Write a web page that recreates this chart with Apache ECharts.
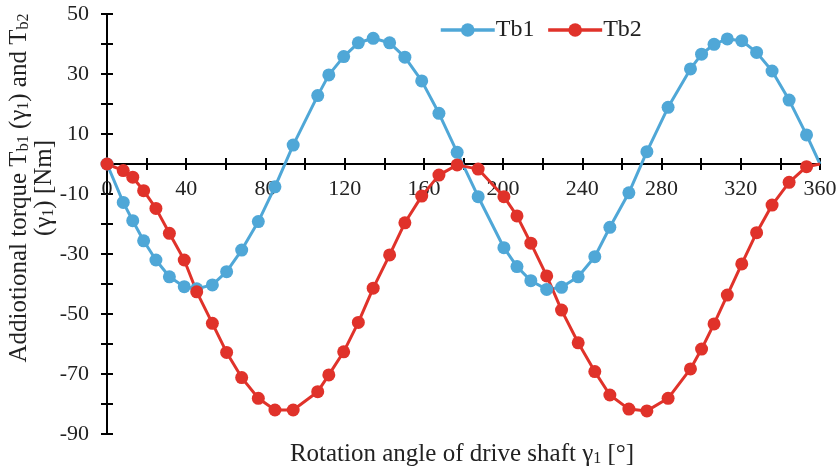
<!DOCTYPE html>
<html>
<head>
<meta charset="utf-8">
<script src="https://cdn.jsdelivr.net/npm/echarts@6/dist/echarts.min.js"></script>
<style>html,body{margin:0;padding:0;background:#fff;}#chart{width:840px;height:472px;}</style>
</head>
<body>
<div id="chart"></div>
<script>
// Rotation angle of drive shaft (deg)
const angle = [0, 8.2, 13, 18.5, 24.7, 31.5, 39, 45.3, 53.2, 60.4, 68, 76.4, 84.8, 94, 106.4, 112, 119.5, 126.9, 134.4, 142.7, 150.4, 158.9, 167.6, 176.8, 187.4, 200.4, 207, 214, 222, 229.5, 237.9, 246.3, 253.9, 263.5, 272.6, 283.3, 294.6, 300.2, 306.5, 313.2, 320.5, 328, 335.8, 344.4, 353.2, 360];
// Additional torque Tb1 (Nm)
const tb1 = [0, -12.8, -18.9, -25.6, -32, -37.6, -40.9, -41.6, -40.3, -35.9, -28.7, -19.2, -7.6, 6.3, 22.8, 29.7, 35.8, 40.4, 41.9, 40.4, 35.6, 27.7, 16.9, 3.9, -10.9, -27.9, -34.2, -38.9, -41.8, -41.1, -37.6, -30.9, -21.1, -9.6, 4.1, 18.9, 31.7, 36.6, 39.9, 41.7, 41.1, 37.2, 31, 21.3, 9.7, 0];
// Additional torque Tb2 (Nm)
const tb2 = [0, -2.2, -4.4, -8.9, -14.8, -23.1, -32, -42.6, -53.1, -62.8, -71.2, -78.1, -82, -82, -75.9, -70.3, -62.6, -52.8, -41.4, -30.3, -19.6, -10.7, -3.7, -0.3, -1.7, -10.9, -17.3, -26.4, -37.3, -48.7, -59.6, -69.2, -77, -81.7, -82.3, -78.1, -68.3, -61.7, -53.3, -43.7, -33.3, -22.9, -13.7, -6.1, -0.9, 0];
const seriesNames = ['Tb1', 'Tb2'];
const xLabelTicks = [0, 40, 80, 120, 160, 200, 240, 280, 320, 360];
const yLabelTicks = [50, 30, 10, -10, -30, -50, -70, -90];

const FONT = '"Liberation Serif", "Times New Roman", serif';
const BLUE = '#4FA7D7';
const RED = '#E0322A';
const TXT = '#222';

function pairs(ys) {
  return angle.map((x, i) => {
    const p = { value: [x, ys[i]] };
    if (i === angle.length - 1) p.symbol = 'none';
    return p;
  });
}

const chart = echarts.init(document.getElementById('chart'), null, { renderer: 'canvas' });

// grid geometry (pixels) used to place the x axis on the zero line
const GRID_TOP = 14, GRID_BOTTOM = 38, CH = 472;
const yMin = -90, yMax = 50;
const plotH = CH - GRID_TOP - GRID_BOTTOM;
const zeroOffset = -plotH * (0 - yMin) / (yMax - yMin);

const tickStyle = { color: '#000', width: 2 };
const axisCommonX = {
  type: 'value', min: 0, max: 360, interval: 20,
  splitLine: { show: false }
};
const axisCommonY = {
  type: 'value', min: yMin, max: yMax, interval: 10,
  axisLine: { show: true, onZero: true, lineStyle: { color: '#000', width: 2 } },
  splitLine: { show: false }
};

chart.setOption({
  animation: false,
  backgroundColor: '#fff',
  grid: { left: 107, right: 20, top: GRID_TOP, bottom: GRID_BOTTOM, containLabel: false, outerBoundsMode: 'none' },
  legend: {
    data: seriesNames,
    left: 434, top: 13,
    itemWidth: 54, itemHeight: 17, itemGap: 12,
    lineStyle: { width: 3.5 },
    textStyle: { fontFamily: FONT, fontSize: 24, color: TXT, padding: [0, 0, 0, -4] }
  },
  xAxis: [
    Object.assign({}, axisCommonX, {
      position: 'bottom', offset: zeroOffset,
      axisLine: { show: true, onZero: false, lineStyle: { color: '#000', width: 2 } },
      axisTick: { show: true, inside: false, length: 6, lineStyle: tickStyle },
      axisLabel: {
        show: true, margin: 14, fontFamily: FONT, fontSize: 22, color: TXT,
        formatter: v => xLabelTicks.indexOf(v) >= 0 ? String(v) : ''
      }
    }),
    Object.assign({}, axisCommonX, {
      position: 'top',
      axisLine: { show: true, onZero: true, lineStyle: { color: '#000', width: 2 } },
      axisTick: { show: true, inside: false, length: 6, lineStyle: tickStyle },
      axisLabel: { show: false }
    })
  ],
  yAxis: [
    Object.assign({}, axisCommonY, {
      position: 'left',
      axisTick: { show: true, inside: false, length: 6, lineStyle: tickStyle },
      axisLabel: {
        show: true, margin: 18, fontFamily: FONT, fontSize: 22, color: TXT,
        formatter: v => yLabelTicks.indexOf(v) >= 0 ? String(v) : ''
      }
    }),
    Object.assign({}, axisCommonY, {
      position: 'right',
      axisTick: { show: true, inside: false, length: 6, lineStyle: tickStyle },
      axisLabel: { show: false }
    })
  ],
  graphic: [
    {
      type: 'text', x: 32, y: 188, rotation: Math.PI / 2,
      style: {
        text: 'Addiotional torque T{sub|b1} ({t|γ}{sub|1}) and T{sub|b2}\n({t|γ}{sub|1}) [Nm]',
        font: '25px ' + FONT, fill: TXT, align: 'center', verticalAlign: 'middle',
        lineHeight: 25,
        rich: {
          t: { fontFamily: FONT, fontSize: 25, fill: TXT },
          sub: { fontFamily: FONT, fontSize: 16, fill: TXT, verticalAlign: 'bottom', padding: [10, 0, 0, 0] }
        }
      }
    },
    {
      type: 'text', x: 462, y: 454,
      style: {
        text: 'Rotation angle of drive shaft γ{sub|1} [°]',
        font: '25px ' + FONT, fill: TXT, align: 'center', verticalAlign: 'middle',
        rich: {
          sub: { fontFamily: FONT, fontSize: 16, fill: TXT, verticalAlign: 'bottom', padding: [10, 0, 0, 0] }
        }
      }
    }
  ],
  series: [
    {
      name: seriesNames[0], type: 'line', xAxisIndex: 0, yAxisIndex: 0,
      data: pairs(tb1), symbol: 'circle', symbolSize: 13, clip: false,
      lineStyle: { color: BLUE, width: 3 }, itemStyle: { color: BLUE }
    },
    {
      name: seriesNames[1], type: 'line', xAxisIndex: 0, yAxisIndex: 0,
      data: pairs(tb2), symbol: 'circle', symbolSize: 13, clip: false,
      lineStyle: { color: RED, width: 3 }, itemStyle: { color: RED }
    }
  ]
});
</script>
</body>
</html>
